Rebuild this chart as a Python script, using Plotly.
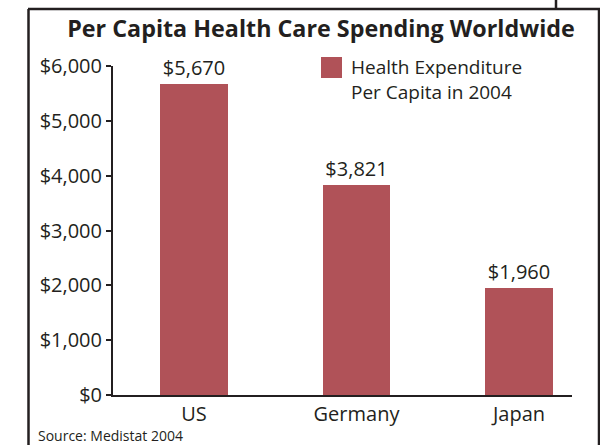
import plotly.graph_objects as go

categories = ["US", "Germany", "Japan"]
spending = [5670, 3821, 1960]
y_ticks = [0, 1000, 2000, 3000, 4000, 5000, 6000]
y_tick_labels = ["$0", "$1,000", "$2,000", "$3,000", "$4,000", "$5,000", "$6,000"]
bar_labels = ["$5,670", "$3,821", "$1,960"]
series_name = "Health Expenditure<br>Per Capita in 2004"
title_text = "Per Capita Health Care Spending Worldwide"
source_text = "Source: Medistat 2004"

BAR = "#b05258"
INK = "#231f20"
FONT = "Open Sans"

W, H = 600, 445
L, R, T, B = 113, 572, 66, 395


def px(x):
    return (x - L) / (R - L)


def py(y):
    return (B - y) / (B - T)


fig = go.Figure()
fig.add_trace(go.Bar(
    x=[0, 1, 2], y=spending, width=0.418, marker=dict(color=BAR, line=dict(width=0)),
    text=bar_labels, textposition="outside", cliponaxis=False,
    textfont=dict(family=FONT, size=20, color=INK), name=series_name, showlegend=False,
))

shapes = [
    dict(type="line", xref="paper", yref="paper", x0=px(28.5), x1=px(28.5), y0=py(9), y1=py(446), line=dict(color=INK, width=2.5)),
    dict(type="line", xref="paper", yref="paper", x0=px(28), x1=px(601), y0=py(9), y1=py(9), line=dict(color=INK, width=2.5)),
    dict(type="line", xref="paper", yref="paper", x0=px(599), x1=px(599), y0=py(9), y1=py(446), line=dict(color=INK, width=2.5)),
    dict(type="line", xref="paper", yref="paper", x0=px(556), x1=px(556), y0=py(9), y1=py(-1), line=dict(color=INK, width=2.5)),
    dict(type="rect", xref="paper", yref="paper", x0=px(321), x1=px(342), y0=py(78), y1=py(57), fillcolor=BAR, line=dict(width=0)),
]

annotations = [
    dict(xref="paper", yref="paper", x=px(349), y=py(79), xanchor="left", yanchor="middle", align="left",
         text=series_name, showarrow=False, font=dict(family=FONT, size=19, color=INK)),
    dict(xref="paper", yref="paper", x=px(36), y=py(435.5), xanchor="left", yanchor="middle",
         text=source_text, showarrow=False, font=dict(family=FONT, size=14, color=INK)),
]

fig.update_layout(
    width=W, height=H, margin=dict(l=L, r=W - R, t=T, b=H - B),
    paper_bgcolor="white", plot_bgcolor="white",
    title=dict(text="<b>" + title_text + "</b>", x=321 / W, xanchor="center", y=1 - 29 / H, yanchor="middle",
               font=dict(family=FONT, size=23.3, color=INK)),
    shapes=shapes, annotations=annotations, showlegend=False, bargap=0,
    xaxis=dict(range=[-0.498, 2.326], tickvals=[0, 1, 2], ticktext=categories, showgrid=False, zeroline=False,
               showline=True, linecolor=INK, linewidth=2, ticks="", fixedrange=True,
               tickfont=dict(family=FONT, size=20, color=INK)),
    yaxis=dict(range=[0, 6000], tickvals=y_ticks, ticktext=y_tick_labels, showgrid=False, zeroline=False,
               showline=True, linecolor=INK, linewidth=2, ticks="outside", ticklen=5, tickwidth=2, tickcolor=INK,
               tickfont=dict(family=FONT, size=20, color=INK)),
)

fig.write_html("out.html", config={"displayModeBar": False},
               post_script="document.body.style.margin='0';document.body.style.overflow='hidden';")
